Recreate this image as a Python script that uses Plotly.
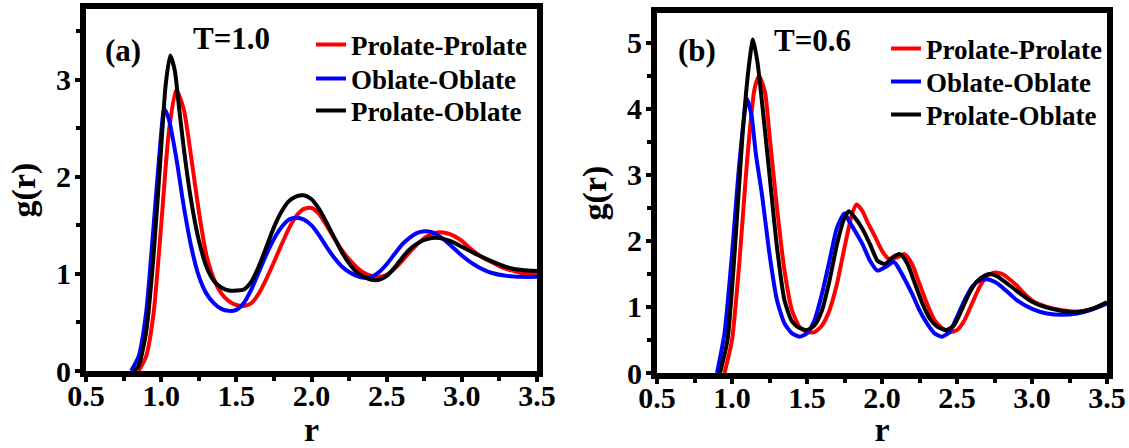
import plotly.graph_objects as go

# ---------------- Panel (a): T = 1.0 ----------------
r_pp_a = [0.85, 0.9, 0.95, 1.0, 1.05, 1.1, 1.15, 1.2, 1.25, 1.3, 1.35, 1.4, 1.45, 1.5, 1.55, 1.6, 1.65, 1.7, 1.75, 1.8,
          1.85, 1.9, 1.95, 2.0, 2.05, 2.1, 2.15, 2.2, 2.25, 2.3, 2.35, 2.4, 2.45, 2.5, 2.55, 2.6, 2.65, 2.7, 2.75, 2.8,
          2.85, 2.9, 2.95, 3.0, 3.05, 3.1, 3.15, 3.2, 3.25, 3.3, 3.35, 3.4, 3.45, 3.5]
g_pp_a = [0.0, 0.15, 0.6, 1.5, 2.45, 2.9, 2.7, 2.2, 1.65, 1.2, 0.95, 0.8, 0.72, 0.68, 0.67, 0.7, 0.8, 0.95, 1.12, 1.3,
          1.47, 1.6, 1.67, 1.68, 1.62, 1.5, 1.37, 1.25, 1.15, 1.07, 1.01, 0.98, 0.97, 0.99, 1.05, 1.13, 1.22, 1.3, 1.37, 1.41,
          1.43, 1.42, 1.39, 1.34, 1.27, 1.21, 1.16, 1.12, 1.08, 1.05, 1.03, 1.01, 1.0, 1.0]

r_oo_a = [0.8, 0.85, 0.9, 0.95, 1.0, 1.02, 1.05, 1.1, 1.15, 1.2, 1.25, 1.3, 1.35, 1.4, 1.45, 1.5, 1.55, 1.6, 1.65, 1.7,
          1.75, 1.8, 1.85, 1.9, 1.95, 2.0, 2.05, 2.1, 2.15, 2.2, 2.25, 2.3, 2.35, 2.4, 2.45, 2.5, 2.55, 2.6, 2.65, 2.7,
          2.75, 2.8, 2.85, 2.9, 2.95, 3.0, 3.05, 3.1, 3.15, 3.2, 3.3, 3.4, 3.5]
g_oo_a = [0.0, 0.15, 0.6, 1.5, 2.45, 2.7, 2.6, 2.2, 1.7, 1.28, 0.98, 0.8, 0.7, 0.64, 0.62, 0.63, 0.7, 0.84, 1.02, 1.2,
          1.36, 1.48, 1.56, 1.58, 1.56, 1.5, 1.4, 1.28, 1.17, 1.08, 1.02, 0.98, 0.96, 0.97, 1.02, 1.1, 1.2, 1.3, 1.37, 1.42,
          1.44, 1.43, 1.39, 1.33, 1.26, 1.19, 1.13, 1.08, 1.04, 1.01, 0.98, 0.97, 0.97]

r_po_a = [0.82, 0.85, 0.9, 0.95, 1.0, 1.03, 1.06, 1.09, 1.12, 1.15, 1.2, 1.25, 1.3, 1.35, 1.4, 1.45, 1.5, 1.55, 1.6, 1.65,
          1.7, 1.75, 1.8, 1.85, 1.9, 1.95, 2.0, 2.05, 2.1, 2.15, 2.2, 2.25, 2.3, 2.35, 2.4, 2.45, 2.5, 2.55, 2.6, 2.65,
          2.7, 2.75, 2.8, 2.85, 2.9, 2.95, 3.0, 3.1, 3.2, 3.3, 3.4, 3.5]
g_po_a = [0.0, 0.05, 0.4, 1.2, 2.3, 2.95, 3.25, 3.1, 2.7, 2.3, 1.75, 1.35, 1.08, 0.93, 0.86, 0.83, 0.83, 0.84, 0.92, 1.08,
          1.28, 1.48, 1.64, 1.75, 1.8, 1.81, 1.77, 1.67, 1.53, 1.38, 1.23, 1.11, 1.02, 0.97, 0.94, 0.94, 0.98, 1.06, 1.16, 1.25,
          1.31, 1.35, 1.37, 1.37, 1.35, 1.32, 1.28, 1.2, 1.13, 1.07, 1.04, 1.03]

# ---------------- Panel (b): T = 0.6 ----------------
r_pp_b = [0.95, 1.0, 1.05, 1.1, 1.15, 1.18, 1.22, 1.25, 1.3, 1.35, 1.4, 1.45, 1.5, 1.55, 1.6, 1.65, 1.7, 1.75, 1.8, 1.83,
          1.87, 1.9, 1.95, 2.0, 2.05, 2.1, 2.15, 2.2, 2.25, 2.3, 2.35, 2.4, 2.45, 2.5, 2.55, 2.6, 2.65, 2.7, 2.75, 2.8,
          2.85, 2.9, 2.95, 3.0, 3.1, 3.2, 3.3, 3.4, 3.5]
g_pp_b = [0.0, 0.5, 1.7, 3.2, 4.3, 4.5, 4.25, 3.6, 2.5, 1.55, 0.95, 0.7, 0.62, 0.62, 0.72, 0.95, 1.35, 1.9, 2.4, 2.55,
          2.45, 2.3, 2.08, 1.85, 1.72, 1.75, 1.8, 1.65, 1.35, 1.05, 0.8, 0.68, 0.62, 0.65, 0.8, 1.05, 1.3, 1.47, 1.52, 1.5,
          1.42, 1.32, 1.2, 1.1, 1.0, 0.95, 0.93, 0.97, 1.07]

r_oo_b = [0.9, 0.95, 1.0, 1.05, 1.1, 1.13, 1.16, 1.2, 1.25, 1.3, 1.35, 1.4, 1.45, 1.5, 1.55, 1.6, 1.65, 1.7, 1.75, 1.78,
          1.82, 1.87, 1.92, 1.97, 2.02, 2.08, 2.12, 2.2, 2.25, 2.3, 2.35, 2.4, 2.45, 2.5, 2.55, 2.6, 2.65, 2.7, 2.75, 2.8,
          2.85, 2.9, 3.0, 3.1, 3.2, 3.3, 3.4, 3.5]
g_oo_b = [0.0, 0.6, 1.8, 3.2, 4.15, 3.9, 3.3, 2.7, 1.8, 1.1, 0.75, 0.6, 0.55, 0.6, 0.8, 1.2, 1.7, 2.2, 2.42, 2.3,
          2.15, 1.95, 1.7, 1.55, 1.6, 1.68, 1.55, 1.2, 0.95, 0.75, 0.6, 0.55, 0.62, 0.85, 1.1, 1.3, 1.4, 1.42, 1.38, 1.3,
          1.2, 1.1, 0.97, 0.9, 0.88, 0.9, 0.96, 1.05]

r_po_b = [0.92, 0.97, 1.02, 1.07, 1.11, 1.14, 1.17, 1.2, 1.25, 1.3, 1.35, 1.4, 1.45, 1.5, 1.55, 1.6, 1.65, 1.7, 1.75, 1.78,
          1.82, 1.87, 1.92, 1.97, 2.02, 2.07, 2.12, 2.17, 2.22, 2.27, 2.32, 2.37, 2.43, 2.48, 2.53, 2.58, 2.63, 2.68, 2.72, 2.77,
          2.82, 2.9, 3.0, 3.1, 3.2, 3.3, 3.4, 3.5]
g_po_b = [0.0, 0.5, 1.9, 3.6, 4.6, 5.05, 4.7, 4.1, 3.0, 1.9, 1.1, 0.78, 0.68, 0.65, 0.72, 0.95, 1.4, 1.95, 2.35, 2.45,
          2.35, 2.18, 1.95, 1.7, 1.65, 1.75, 1.8, 1.65, 1.35, 1.05, 0.82, 0.7, 0.65, 0.72, 0.95, 1.2, 1.38, 1.47, 1.5, 1.46,
          1.38, 1.24, 1.08, 0.99, 0.94, 0.92, 0.97, 1.07]

names = ["Prolate-Prolate", "Oblate-Oblate", "Prolate-Oblate"]
colors = ["#ff0000", "#0000ff", "#000000"]
x_ticks = [0.5, 1.0, 1.5, 2.0, 2.5, 3.0, 3.5]
x_tick_labels = ["0.5", "1.0", "1.5", "2.0", "2.5", "3.0", "3.5"]

FONT = "Liberation Serif"
W, H = 1129, 448

# legend rows (pixel centres) for each panel
leg_rows_a = [45, 79, 111]
leg_rows_b = [49, 82, 115]

fig = go.Figure()
panel_a = [(r_pp_a, g_pp_a), (r_oo_a, g_oo_a), (r_po_a, g_po_a)]
panel_b = [(r_pp_b, g_pp_b), (r_oo_b, g_oo_b), (r_po_b, g_po_b)]
for i, (xs, ys) in enumerate(panel_a):
    fig.add_trace(go.Scatter(x=xs, y=ys, mode="lines", name=names[i], xaxis="x", yaxis="y",
                             line=dict(color=colors[i], width=4, shape="spline", smoothing=0.6),
                             legend=f"legend{i + 2}", showlegend=True))
for i, (xs, ys) in enumerate(panel_b):
    fig.add_trace(go.Scatter(x=xs, y=ys, mode="lines", name=names[i], xaxis="x2", yaxis="y2",
                             line=dict(color=colors[i], width=4, shape="spline", smoothing=0.6),
                             legend=f"legend{i + 5}", showlegend=True))

tickfont = dict(family=FONT, size=30, color="black", weight="bold")
titlefont = dict(family=FONT, size=34, color="black", weight="bold")

def xax(domain, anchor):
    return dict(domain=domain, anchor=anchor, range=[0.5, 3.5], tickvals=x_ticks, ticktext=x_tick_labels,
                showline=True, linewidth=6, linecolor="black", mirror=True, showgrid=False, zeroline=False,
                ticks="outside", ticklen=5, tickwidth=4, tickcolor="black", tickfont=tickfont,
                ticklabelstandoff=-12,
                minor=dict(dtick=0.25, tick0=0.5, ticks="outside", ticklen=4, tickwidth=4, tickcolor="black"),
                title=dict(text="r", font=titlefont, standoff=6), automargin=False)

def yax(domain, anchor, top):
    return dict(domain=domain, anchor=anchor, range=[0, top], dtick=1, tick0=0,
                showline=True, linewidth=6, linecolor="black", mirror=True, showgrid=False, zeroline=False,
                ticks="outside", ticklen=5, tickwidth=4, tickcolor="black", tickfont=tickfont,
                ticklabelstandoff=-2,
                minor=dict(dtick=0.5, tick0=0, ticks="outside", ticklen=4, tickwidth=4, tickcolor="black"),
                title=dict(text="g(r)", font=titlefont, standoff=12), automargin=False)

legfont = dict(family=FONT, size=27, color="black", weight="bold")

def leg(xpx, ypx):
    return dict(x=xpx / W, y=1 - ypx / H, xanchor="left", yanchor="middle", font=legfont,
                bgcolor="rgba(0,0,0,0)", borderwidth=0, itemwidth=30, visible=True)

layout_legends = {}
for i in range(3):
    layout_legends[f"legend{i + 2}"] = leg(311, leg_rows_a[i])
for i in range(3):
    layout_legends[f"legend{i + 5}"] = leg(886, leg_rows_b[i])

annfont = dict(family=FONT, size=31, color="black", weight="bold")

fig.update_layout(
    width=W, height=H, margin=dict(l=0, r=0, t=0, b=0),
    plot_bgcolor="white", paper_bgcolor="white", showlegend=True,
    xaxis=xax([86 / W, 537 / W], "y"),
    yaxis=yax([1 - 371 / H, 1 - 9 / H], "x", 3.73),
    xaxis2=xax([657 / W, 1107 / W], "y2"),
    yaxis2=yax([1 - 373 / H, 1 - 13 / H], "x2", 5.45),
    annotations=[
        dict(text="(a)", x=123 / W, y=1 - 50 / H, xref="paper", yref="paper", showarrow=False,
             xanchor="center", yanchor="middle", font=annfont),
        dict(text="T=1.0", x=232 / W, y=1 - 38 / H, xref="paper", yref="paper", showarrow=False,
             xanchor="center", yanchor="middle", font=annfont),
        dict(text="(b)", x=697 / W, y=1 - 50 / H, xref="paper", yref="paper", showarrow=False,
             xanchor="center", yanchor="middle", font=annfont),
        dict(text="T=0.6", x=812 / W, y=1 - 40 / H, xref="paper", yref="paper", showarrow=False,
             xanchor="center", yanchor="middle", font=annfont),
    ],
    **layout_legends,
)

fig.write_html("out.html")
